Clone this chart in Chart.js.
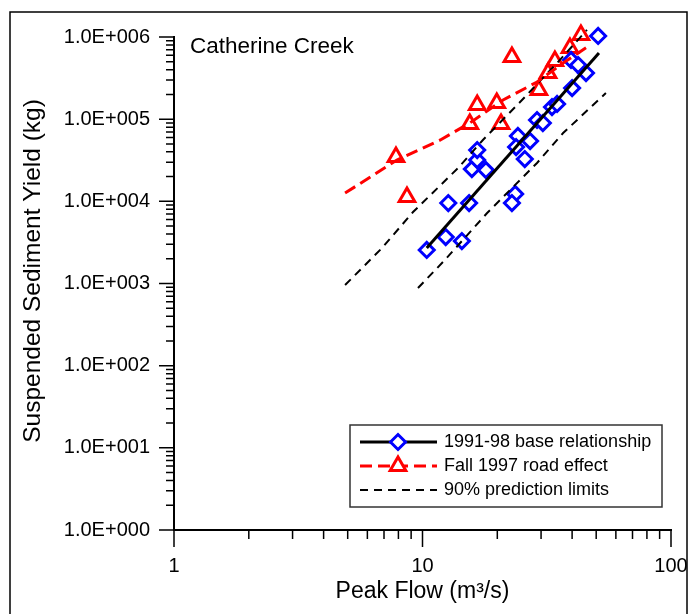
<!DOCTYPE html>
<html lang="en">
<head>
<meta charset="UTF-8" />
<title>Catherine Creek - Peak Flow vs Sediment Yield</title>
<script src="https://cdn.jsdelivr.net/npm/chart.js"></script>
<style>
  html, body { margin: 0; padding: 0; background: #fff; }
  .chart-container { width: 688px; height: 614px; position: relative; }
</style>
</head>
<body>
<div class="chart-container"><canvas id="sedChart"></canvas></div>
<script>
// 1991-98 base storms (peak flow m3/s, sediment kg)
const baseFlow  = [10.4, 12.4, 14.4, 12.7, 15.4, 15.8, 18.0, 16.6, 16.6, 23.6, 22.9, 24.2,
                   27.1, 23.8, 25.8, 28.9, 30.5, 33.2, 34.8, 40.0, 39.6, 42.3, 45.5, 50.9];
const baseYield = [2560, 3680, 3290, 9540, 9540, 24700, 24000, 31800, 42100, 12300, 9540, 62400,
                   54200, 45800, 32700, 97700, 89800, 140600, 153000, 239000, 525000, 456000, 364000, 1030000];

// Fall 1997 storms after road building
const roadFlow  = [7.82, 8.66, 15.5, 16.6, 19.9, 20.7, 22.9, 29.4, 32.0, 34.1, 39.2, 43.4];
const roadYield = [34600, 11300, 87300, 148700, 157300, 87300, 571000, 226000, 364000, 510000, 734000, 1060000];

// fitted lines
const fitFlow = [10.4, 51.3];
const fitYield = [2700, 638000];
const roadFitFlow  = [4.88, 7.89, 11.8, 15.5, 21.1, 28.9, 36.8, 47.2];
const roadFitYield = [12600, 31800, 55800, 89800, 171000, 283000, 482000, 798000];
const upperFlow  = [4.88, 6.87, 9.16, 13.9, 17.5, 24.7, 34.8, 45.9];
const upperYield = [959, 2700, 7410, 25400, 55800, 161700, 482000, 1220000];
const lowerFlow  = [9.59, 12.3, 18.2, 28.9, 36.8, 54.7];
const lowerYield = [881, 1930, 7210, 29300, 67800, 208000];

const xTicks = [1, 10, 100];
const yTicks = [1, 10, 100, 1000, 10000, 100000, 1000000];

const FONT = "'Liberation Sans', Arial, sans-serif";

function pairs(xs, ys) {
  return xs.map((x, i) => ({ x: x, y: ys[i] }));
}

function sciLabel(v) {
  const e = Math.floor(Math.log10(v) + 1e-9);
  const m = (v / Math.pow(10, e)).toFixed(1);
  return m + "E+" + String(e).padStart(3, "0");
}

// axis tick marks (major outward, minor shorter), frame, y title, site label
const decorPlugin = {
  id: "decor",
  afterDraw(chart) {
    const ctx = chart.ctx;
    const xs = chart.scales.x, ys = chart.scales.y;
    const area = chart.chartArea;
    ctx.save();
    ctx.strokeStyle = "#000";
    ctx.lineWidth = 1.5;
    ctx.beginPath();
    for (let e = 0; e < 6; e++) {
      for (let m = 1; m <= 9; m++) {
        const py = ys.getPixelForValue(m * Math.pow(10, e));
        const len = m === 1 ? 15 : 8;
        ctx.moveTo(area.left, py);
        ctx.lineTo(area.left - len, py);
      }
    }
    const pyTop = ys.getPixelForValue(yTicks[yTicks.length - 1]);
    ctx.moveTo(area.left, pyTop);
    ctx.lineTo(area.left - 15, pyTop);
    for (let e = 0; e < 2; e++) {
      for (let m = 1; m <= 9; m++) {
        const px = xs.getPixelForValue(m * Math.pow(10, e));
        const len = m === 1 ? 17 : 9;
        ctx.moveTo(px, area.bottom);
        ctx.lineTo(px, area.bottom + len);
      }
    }
    const pxEnd = xs.getPixelForValue(xTicks[xTicks.length - 1]);
    ctx.moveTo(pxEnd, area.bottom);
    ctx.lineTo(pxEnd, area.bottom + 17);
    ctx.stroke();

    // outer frame
    ctx.lineWidth = 1.5;
    ctx.strokeRect(10, 12, 677, 640);

    ctx.fillStyle = "#000";
    ctx.textBaseline = "middle";

    // y axis title
    ctx.save();
    ctx.translate(33, 271);
    ctx.rotate(-Math.PI / 2);
    ctx.font = "24.5px " + FONT;
    ctx.textAlign = "center";
    ctx.fillText("Suspended Sediment Yield (kg)", 0, 0);
    ctx.restore();

    // site name
    ctx.font = "22.5px " + FONT;
    ctx.textAlign = "left";
    ctx.fillText("Catherine Creek", area.left + 16, area.top + 10);
    ctx.restore();
  }
};

// boxed legend inside the plot (lower right)
const legendPlugin = {
  id: "boxLegend",
  afterDraw(chart) {
    const ctx = chart.ctx;
    const area = chart.chartArea;
    const ds = chart.data.datasets;
    const items = [
      { line: ds[0], point: ds[4], label: "1991-98 base relationship" },
      { line: ds[1], point: ds[5], label: "Fall 1997 road effect" },
      { line: ds[2], point: null, label: "90% prediction limits" }
    ];
    const boxR = area.right - 9, boxB = area.bottom - 23;
    const boxL = boxR - 312, boxT = boxB - 82;
    ctx.save();
    ctx.fillStyle = "#fff";
    ctx.fillRect(boxL, boxT, boxR - boxL, boxB - boxT);
    ctx.strokeStyle = "#333";
    ctx.lineWidth = 1.5;
    ctx.strokeRect(boxL, boxT, boxR - boxL, boxB - boxT);

    items.forEach((it, i) => {
      const y = boxT + 17 + i * 24;
      ctx.save();
      ctx.strokeStyle = it.line.borderColor;
      ctx.lineWidth = it.line.borderWidth;
      ctx.setLineDash(it.line.borderDash || []);
      ctx.beginPath();
      ctx.moveTo(boxL + 10, y);
      ctx.lineTo(boxL + 87, y);
      ctx.stroke();
      ctx.restore();
      if (it.point) {
        Chart.helpers.drawPoint(ctx, {
          pointStyle: it.point.pointStyle,
          radius: it.point.pointRadius,
          borderWidth: it.point.pointBorderWidth
        }, boxL + 48, y);
        ctx.save();
        ctx.fillStyle = it.point.pointBackgroundColor;
        ctx.strokeStyle = it.point.pointBorderColor;
        ctx.lineWidth = it.point.pointBorderWidth;
        ctx.fill();
        ctx.stroke();
        ctx.restore();
      }
      ctx.fillStyle = "#000";
      ctx.font = "18px " + FONT;
      ctx.textAlign = "left";
      ctx.textBaseline = "middle";
      ctx.fillText(it.label, boxL + 94, y);
    });
    ctx.restore();
  }
};

const ctx = document.getElementById("sedChart").getContext("2d");

new Chart(ctx, {
  type: "scatter",
  data: {
    datasets: [
      {
        label: "1991-98 base relationship",
        data: pairs(fitFlow, fitYield),
        showLine: true, borderColor: "#000", borderWidth: 3,
        pointRadius: 0, clip: false, order: 1
      },
      {
        label: "Fall 1997 road effect",
        data: pairs(roadFitFlow, roadFitYield),
        showLine: true, borderColor: "#ff0000", borderWidth: 3, borderDash: [12, 6],
        pointRadius: 0, clip: false, order: 1
      },
      {
        label: "90% prediction limits",
        data: pairs(upperFlow, upperYield),
        showLine: true, borderColor: "#000", borderWidth: 2, borderDash: [8, 6],
        pointRadius: 0, clip: false, order: 1
      },
      {
        label: "lower limit",
        data: pairs(lowerFlow, lowerYield),
        showLine: true, borderColor: "#000", borderWidth: 2, borderDash: [8, 6],
        pointRadius: 0, clip: false, order: 1
      },
      {
        label: "base storms",
        data: pairs(baseFlow, baseYield),
        pointStyle: "rectRot", pointRadius: 7.5, pointBorderWidth: 3,
        pointBorderColor: "#0000ff", pointBackgroundColor: "#fff",
        clip: false, order: 2
      },
      {
        label: "road storms",
        data: pairs(roadFlow, roadYield),
        pointStyle: "triangle", pointRadius: 9, pointBorderWidth: 3,
        pointBorderColor: "#ff0000", pointBackgroundColor: "#fff",
        clip: false, order: 2
      }
    ]
  },
  plugins: [decorPlugin, legendPlugin],
  options: {
    responsive: true,
    maintainAspectRatio: false,
    animation: false,
    layout: { padding: { top: 37, right: 17, left: 0, bottom: 0 } },
    plugins: { legend: { display: false }, tooltip: { enabled: false } },
    scales: {
      x: {
        type: "logarithmic",
        min: 1, max: 100,
        grid: { display: false, drawTicks: false },
        border: { display: true, color: "#000", width: 2 },
        afterBuildTicks: (s) => { s.ticks = xTicks.map(v => ({ value: v })); },
        afterFit: (s) => { s.height = 84; s.paddingLeft = 0; s.paddingRight = 0; },
        ticks: {
          color: "#000", font: { family: FONT, size: 20 }, padding: 24,
          autoSkip: false, maxRotation: 0,
          callback: (v) => String(v)
        },
        title: {
          display: true, text: "Peak Flow (m³/s)", color: "#000",
          font: { family: FONT, size: 23 }, padding: { top: 0, bottom: 9 }
        }
      },
      y: {
        type: "logarithmic",
        min: 1, max: 1000000,
        grid: { display: false, drawTicks: false },
        border: { display: true, color: "#000", width: 2 },
        afterBuildTicks: (s) => { s.ticks = yTicks.map(v => ({ value: v })); },
        afterFit: (s) => { s.width = 174; s.paddingTop = 0; s.paddingBottom = 0; },
        ticks: {
          color: "#000", font: { family: FONT, size: 20 }, padding: 24,
          autoSkip: false,
          callback: (v) => sciLabel(v)
        }
      }
    }
  }
});
</script>
</body>
</html>
